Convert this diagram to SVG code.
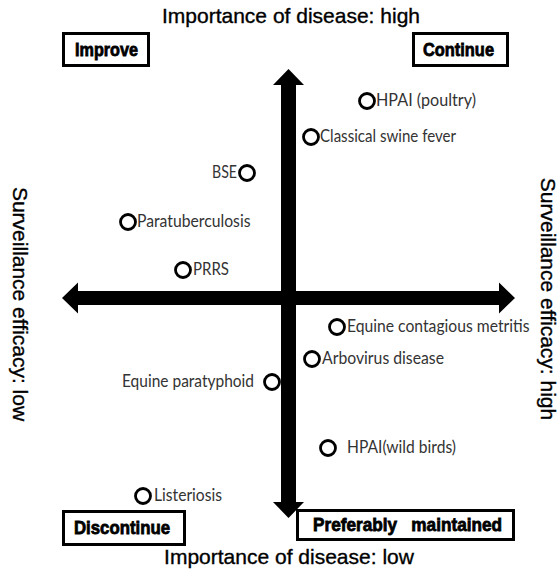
<svg xmlns="http://www.w3.org/2000/svg" width="559" height="569" viewBox="0 0 559 569">
<style>
.axis{font-family:"Liberation Sans",Arial,sans-serif;font-size:21px;fill:#000;stroke:#000;stroke-width:0.35}
.box rect{fill:#fff;stroke:#000;stroke-width:3}
.box text{font-family:"Liberation Sans",Arial,sans-serif;font-weight:bold;font-size:19px;fill:#000;stroke:#000;stroke-width:0.8}
.pt circle{fill:none;stroke:#000;stroke-width:2.8}
.pt text{font-family:Lato,"Open Sans",sans-serif;font-size:16.5px;fill:#333}
.arrow{fill:#000}
</style>
<rect width="559" height="569" fill="#fff"/>
<g id="connectors">
<path class="arrow" d="M288.5,69 L304,85 L296,85 L296,502 L304,502 L288.5,518 L273,502 L281,502 L281,85 L273,85 Z"/>
<path class="arrow" d="M62,298 L78,282.5 L78,291 L499,291 L499,282.5 L515,298 L499,313.5 L499,305 L78,305 L78,313.5 Z"/>
</g>
<g id="axis-labels">
<text class="axis" x="291" y="23" text-anchor="middle">Importance of disease: high</text>
<text class="axis" x="289" y="564" text-anchor="middle">Importance of disease: low</text>
<text class="axis" transform="translate(13,304) rotate(90)" text-anchor="middle">Surveillance efficacy: low</text>
<text class="axis" transform="translate(541,299) rotate(90)" text-anchor="middle">Surveillance efficacy: high</text>
</g>
<g id="improve" class="box"><rect x="63.5" y="33.5" width="85" height="32"/><text x="75" y="56" textLength="63" lengthAdjust="spacingAndGlyphs">Improve</text></g>
<g id="continue" class="box"><rect x="413.5" y="33.5" width="94" height="32"/><text x="423" y="56" textLength="71" lengthAdjust="spacingAndGlyphs">Continue</text></g>
<g id="discontinue" class="box"><rect x="63.5" y="511.5" width="121" height="33" /><text x="74" y="534" textLength="96" lengthAdjust="spacingAndGlyphs">Discontinue</text></g>
<g id="preferably-maintained" class="box"><rect x="297.5" y="510.5" width="216" height="29"/><text x="313" y="531" textLength="189" lengthAdjust="spacingAndGlyphs" xml:space="preserve">Preferably   maintained</text></g>
<g id="hpai-poultry" class="pt"><circle cx="367" cy="101" r="7.5"/><text x="376" y="106" textLength="100" lengthAdjust="spacingAndGlyphs">HPAI (poultry)</text></g>
<g id="classical-swine-fever" class="pt"><circle cx="311" cy="137" r="7.5"/><text x="320" y="142" textLength="136" lengthAdjust="spacingAndGlyphs">Classical swine fever</text></g>
<g id="bse" class="pt"><circle cx="247" cy="173" r="7.5"/><text x="212" y="178" textLength="25" lengthAdjust="spacingAndGlyphs">BSE</text></g>
<g id="paratuberculosis" class="pt"><circle cx="128" cy="222" r="7.5"/><text x="137" y="227" textLength="113.5" lengthAdjust="spacingAndGlyphs">Paratuberculosis</text></g>
<g id="prrs" class="pt"><circle cx="183" cy="270" r="7.5"/><text x="193" y="275" textLength="36" lengthAdjust="spacingAndGlyphs">PRRS</text></g>
<g id="equine-contagious-metritis" class="pt"><circle cx="337" cy="327" r="7.5"/><text x="347" y="332" textLength="182.5" lengthAdjust="spacingAndGlyphs">Equine contagious metritis</text></g>
<g id="arbovirus-disease" class="pt"><circle cx="312" cy="359" r="7.5"/><text x="322" y="364" textLength="122" lengthAdjust="spacingAndGlyphs">Arbovirus disease</text></g>
<g id="equine-paratyphoid" class="pt"><circle cx="272" cy="382" r="7.5"/><text x="122" y="387" textLength="132" lengthAdjust="spacingAndGlyphs">Equine paratyphoid</text></g>
<g id="hpai-wild-birds" class="pt"><circle cx="328" cy="448" r="7.5"/><text x="347" y="453" textLength="109" lengthAdjust="spacingAndGlyphs">HPAI(wild birds)</text></g>
<g id="listeriosis" class="pt"><circle cx="143" cy="496" r="7.5"/><text x="154" y="501" textLength="68" lengthAdjust="spacingAndGlyphs">Listeriosis</text></g>
</svg>
